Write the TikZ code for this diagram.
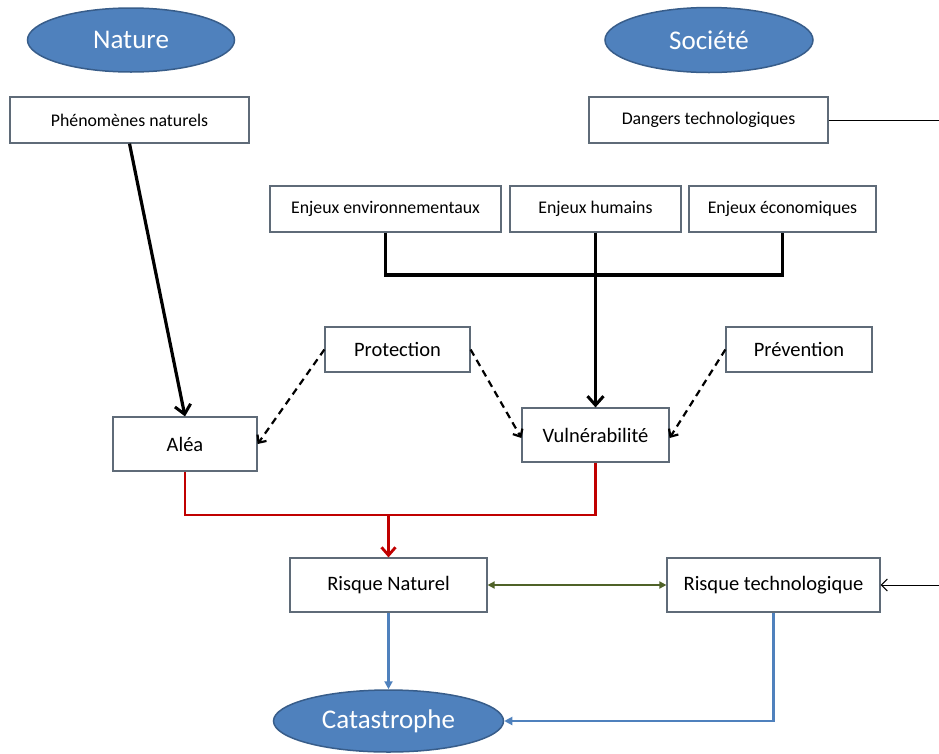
\documentclass[tikz,border=0pt]{standalone}
\usepackage{fontspec}
\setmainfont{Carlito}
\usetikzlibrary{arrows.meta,shapes.geometric}
\definecolor{ofblue}{HTML}{4F81BD}
\definecolor{ofblueb}{HTML}{385D8A}
\definecolor{boxedge}{HTML}{5F6B78}
\definecolor{ofred}{HTML}{C00000}
\definecolor{ofgreen}{HTML}{4F6228}
\tikzset{
  oval/.style={ellipse, draw=ofblueb, line width=1.5pt, fill=ofblue, text=white, inner sep=0pt, font=\fontsize{27}{31}\selectfont},
  sbox/.style={rectangle, draw=boxedge, line width=1.2pt, fill=white, inner sep=0pt, font=\fontsize{17.8}{21}\selectfont},
  lbox/.style={rectangle, draw=boxedge, line width=1.2pt, fill=white, inner sep=0pt, font=\fontsize{20.5}{24}\selectfont},
  heavy/.style={line width=3.2pt, -{Straight Barb[length=9pt,width=16pt,line width=3pt]}},
  dashedarrow/.style={line width=2.2pt, dash pattern=on 7pt off 5pt, -{Straight Barb[length=6pt,width=11pt,line width=2.2pt]}},
  redl/.style={draw=ofred, line width=2.8pt},
  bluel/.style={draw=ofblue, line width=2.8pt}
}
\begin{document}
\begin{tikzpicture}[x=1pt,y=-1pt]
\useasboundingbox (0,0) rectangle (939,753);
% ellipses
\node[oval, minimum width=207pt, minimum height=64pt] (nature) at (131,40) {Nature};
\node[oval, minimum width=208pt, minimum height=65pt] (societe) at (709,40) {Société};
\node[oval, minimum width=230pt, minimum height=62pt] (cata) at (388.5,721) {Catastrophe};
% boxes
\node[sbox, minimum width=239pt, minimum height=46pt] (phen) at (129.5,120) {Phénomènes naturels};
\node[sbox, minimum width=239pt, minimum height=46pt] (dang) at (708.5,120) {Dangers technologiques};
\node[sbox, minimum width=231pt, minimum height=46pt] (env) at (385.5,209) {Enjeux environnementaux};
\node[sbox, minimum width=171pt, minimum height=46pt] (hum) at (595.5,209) {Enjeux humains};
\node[sbox, minimum width=187pt, minimum height=46pt] (eco) at (782.5,209) {Enjeux économiques};
\node[lbox, minimum width=145pt, minimum height=45pt] (prot) at (397.5,349.5) {Protection};
\node[lbox, minimum width=146pt, minimum height=45pt] (prev) at (799,349.5) {Prévention};
\node[lbox, minimum width=144pt, minimum height=54pt] (alea) at (185,444) {Aléa};
\node[lbox, minimum width=147pt, minimum height=54pt] (vuln) at (595.5,435) {Vulnérabilité};
\node[lbox, minimum width=197pt, minimum height=54pt] (rn) at (388.5,585) {Risque Naturel};
\node[lbox, minimum width=213pt, minimum height=54pt] (rt) at (773.5,585) {Risque technologique};
% free ends
\coordinate (edgeA) at (939,120);
\coordinate (edgeB) at (939,585);
\coordinate (bar) at (0,275);
\coordinate (redbar) at (0,515);
% connectors
\draw[heavy] (phen.south) -- (alea.north);
\draw[line width=3.2pt] (env.south) -- (env.south |- bar) -- (eco.south |- bar) -- (eco.south);
\draw[heavy] (hum.south) -- (vuln.north);
\draw[dashedarrow] (prot.west) -- (alea.east);
\draw[dashedarrow] (prot.east) -- ([yshift=-3pt]vuln.west);
\draw[dashedarrow] (prev.west) -- ([yshift=-3pt]vuln.east);
\draw[redl] (alea.south) -- (alea.south |- redbar) -- (vuln.south |- redbar) -- (vuln.south);
\draw[redl, -{Straight Barb[length=8pt,width=14pt,line width=2.8pt]}] (rn.north |- redbar) -- (rn.north);
\draw[draw=ofgreen, line width=2.2pt, {Triangle[length=7pt,width=7pt]}-{Triangle[length=7pt,width=7pt]}] (rn.east) -- (rt.west);
\draw[line width=1pt] (dang.east) -- (edgeA);
\draw[line width=1pt, -{Straight Barb[length=6pt,width=12pt,line width=1pt]}] (edgeB) -- (rt.east);
\draw[bluel, -{Triangle[length=8pt,width=8pt]}] (rn.south) -- (cata.north);
\draw[bluel, -{Triangle[length=8pt,width=8pt]}] (rt.south) -- (rt.south |- cata.east) -- (cata.east);
\end{tikzpicture}
\end{document}
